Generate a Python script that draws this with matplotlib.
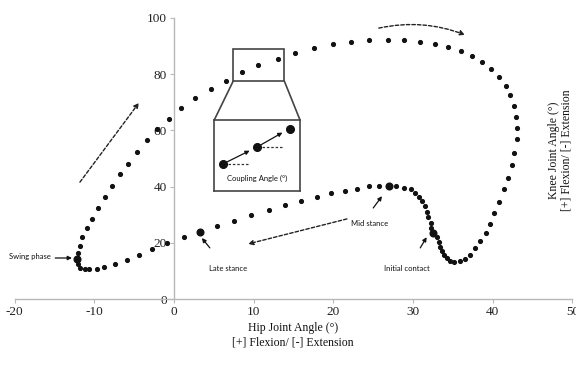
import matplotlib
matplotlib.use("Agg")
import matplotlib.pyplot as plt
from matplotlib.patches import Rectangle, ConnectionPatch

# ---------------- data ----------------
hip = [-12.2, -12.1, -11.8, -11.5, -10.9, -10.3, -9.5, -8.7, -7.8, -6.8,
       -5.8, -4.6, -3.4, -2.1, -0.6, 0.9, 2.7, 4.6, 6.5, 8.5,
       10.6, 13.0, 15.2, 17.6, 20.0, 22.2, 24.5, 26.8, 28.9, 30.9,
       32.7, 34.4, 36.0, 37.4, 38.7, 39.8, 40.8, 41.6, 42.2, 42.7,
       42.9, 43.0, 43.0, 42.7, 42.4, 41.9, 41.4, 40.8, 40.2, 39.7,
       39.1, 38.4, 37.8, 37.1, 36.5, 35.9, 35.1, 34.6, 34.2, 33.9,
       33.6, 33.4, 33.2, 33.0, 32.5, 32.3, 32.2, 31.9, 31.7, 31.5,
       31.1, 30.7, 30.3, 29.7, 28.9, 27.9, 27.0, 25.7, 24.5, 23.0,
       21.5, 19.7, 17.9, 16.0, 13.9, 11.9, 9.7, 7.5, 5.4, 3.3,
       1.2, -0.9, -2.7, -4.4, -5.9, -7.4, -8.8, -9.7, -10.6, -11.2,
       -11.8, -12.1]
knee = [14.1, 16.5, 18.9, 22.1, 25.3, 28.6, 32.3, 36.2, 40.3, 44.5,
        48.2, 52.3, 56.6, 60.5, 64.1, 67.9, 71.5, 74.8, 77.6, 80.9,
        83.3, 85.4, 87.4, 89.2, 90.7, 91.6, 92.1, 92.1, 92.1, 91.6,
        90.7, 89.6, 88.3, 86.5, 84.2, 81.7, 79.0, 75.8, 72.5, 68.7,
        64.9, 60.9, 56.8, 51.9, 47.8, 43.2, 39.0, 34.5, 30.5, 26.7,
        23.4, 20.6, 18.0, 15.7, 14.2, 13.5, 13.1, 13.6, 14.6, 15.8,
        17.2, 18.6, 20.3, 22.2, 23.5, 25.4, 27.2, 29.2, 31.0, 33.0,
        34.8, 36.3, 37.7, 39.0, 39.5, 40.2, 40.2, 40.2, 40.1, 39.3,
        38.6, 37.8, 36.3, 35.0, 33.6, 31.7, 29.8, 27.9, 26.1, 23.7,
        21.9, 19.8, 17.7, 15.8, 13.9, 12.6, 11.5, 10.6, 10.6, 10.6,
        11.1, 12.6]

event_labels = ["Swing phase", "Late stance", "Mid stance", "Initial contact"]
event_hip = [-12.2, 3.3, 27.0, 32.5]
event_knee = [14.1, 23.7, 40.2, 23.5]

x_ticks = [-20, -10, 0, 10, 20, 30, 40, 50]
y_ticks = [0, 20, 40, 60, 80, 100]

# inset schematic (coupling angle) in inset-axes units
inset_x = [0.10, 0.50, 0.88]
inset_y = [0.38, 0.62, 0.88]

# --------------------------------------------------------------
serif = ["Liberation Serif", "DejaVu Serif"]
sans = ["Lato", "DejaVu Sans"]

fig = plt.figure(figsize=(5.76, 3.71), dpi=100)
ax = fig.add_axes([0.0253, 0.194, 0.9686, 0.7575])
ax.set_xlim(-20, 50)
ax.set_ylim(0, 100)

for s in ["top", "right"]:
    ax.spines[s].set_visible(False)
ax.spines["left"].set_position(("data", 0))
ax.spines["bottom"].set_position(("data", 0))
for s in ["left", "bottom"]:
    ax.spines[s].set_color("#b8b8b8")
    ax.spines[s].set_linewidth(1.0)

ax.set_xticks(x_ticks)
ax.set_yticks(y_ticks)
ax.set_xticklabels([str(v) for v in x_ticks], fontfamily=serif, fontsize=9.5)
ax.set_yticklabels([str(v) for v in y_ticks], fontfamily=serif, fontsize=9.5)
ax.tick_params(axis="both", direction="out", length=3, width=0.8,
               color="#b8b8b8", pad=2, labelcolor="#222222")

# trajectory dots
ax.plot(hip, knee, linestyle="none", marker="o", markersize=2.7,
        color="#111111", zorder=3, clip_on=False)
# event dots
ax.plot(event_hip, event_knee, linestyle="none", marker="o", markersize=4.8,
        color="#111111", zorder=4)

# event labels and short arrows
label_pos = [(-18.1, 15.3), (6.8, 10.7), (24.5, 26.7), (29.2, 10.7)]
arrow_tail = [(-14.9, 14.6), (4.5, 18.2), (25.0, 32.4), (30.9, 18.2)]
arrow_head = [(-12.8, 14.6), (3.5, 21.7), (26.1, 36.6), (31.7, 22.0)]
for lab, (tx, ty), tail, head in zip(event_labels, label_pos, arrow_tail, arrow_head):
    ax.text(tx, ty, lab, fontsize=5.5, family=sans, ha="center", va="center",
            color="#111111", clip_on=False)
    ax.annotate("", xy=head, xytext=tail,
                arrowprops=dict(arrowstyle="-|>", lw=0.9, color="#111111",
                                mutation_scale=6, shrinkA=0, shrinkB=0))

# dashed direction arrows
dash_props = dict(arrowstyle="-|>", lw=1.0, color="#222222", linestyle=(0, (2.5, 1.5)),
                  mutation_scale=7, shrinkA=0, shrinkB=0)
ax.annotate("", xy=(9.3, 19.6), xytext=(21.7, 28.5), arrowprops=dash_props)
ax.annotate("", xy=(-4.4, 69.8), xytext=(-11.8, 41.6), arrowprops=dash_props)
top_props = dict(dash_props)
top_props["connectionstyle"] = "arc3,rad=-0.15"
ax.annotate("", xy=(36.5, 94.0), xytext=(25.7, 96.4), arrowprops=top_props,
            annotation_clip=False)

# zoom box on the trajectory
zx0, zx1, zy0, zy1 = 7.44, 13.84, 77.6, 88.9
ax.add_patch(Rectangle((zx0, zy0), zx1 - zx0, zy1 - zy0, fill=False,
                       edgecolor="#444444", lw=1.2, zorder=5))

# inset
ax_in = fig.add_axes([0.372, 0.4852, 0.1488, 0.1914])
ax_in.set_xlim(0, 1)
ax_in.set_ylim(0, 1)
ax_in.set_xticks([])
ax_in.set_yticks([])
for s in ax_in.spines.values():
    s.set_color("#444444")
    s.set_linewidth(1.2)
ax_in.plot(inset_x, inset_y, linestyle="none", marker="o", markersize=5.5,
           color="#111111", zorder=3)
for i in range(len(inset_x) - 1):
    ax_in.annotate("", xy=(inset_x[i + 1], inset_y[i + 1]),
                   xytext=(inset_x[i], inset_y[i]),
                   arrowprops=dict(arrowstyle="-|>", lw=0.9, color="#111111",
                                   mutation_scale=6, shrinkA=3, shrinkB=6))
    ax_in.plot([inset_x[i] + 0.06, inset_x[i] + 0.30], [inset_y[i], inset_y[i]],
               color="#333333", lw=0.9, linestyle=(0, (2, 1.5)))
ax_in.text(0.5, 0.18, "Coupling Angle (°)", fontsize=5.5, family=sans,
           ha="center", va="center", color="#111111")

for (xa, ya), (xb, yb) in [((zx0, zy0), (0, 1)), ((zx1, zy0), (1, 1))]:
    con = ConnectionPatch(xyA=(xa, ya), coordsA=ax.transData,
                          xyB=(xb, yb), coordsB=ax_in.transAxes,
                          color="#444444", lw=1.2)
    fig.add_artist(con)

# axis titles
fig.text(0.509, 0.097, "Hip Joint Angle (°)\n[+] Flexion/ [-] Extension",
         family=serif, fontsize=8.5, ha="center", va="center",
         multialignment="center", linespacing=1.3, color="#111111")
fig.text(0.973, 0.596, "Knee Joint Angle (°)\n[+] Flexion/ [-] Extension",
         family=serif, fontsize=8.5, ha="center", va="center", rotation=90,
         multialignment="center", linespacing=1.1, color="#111111")

fig.savefig("out.png", dpi=100)
